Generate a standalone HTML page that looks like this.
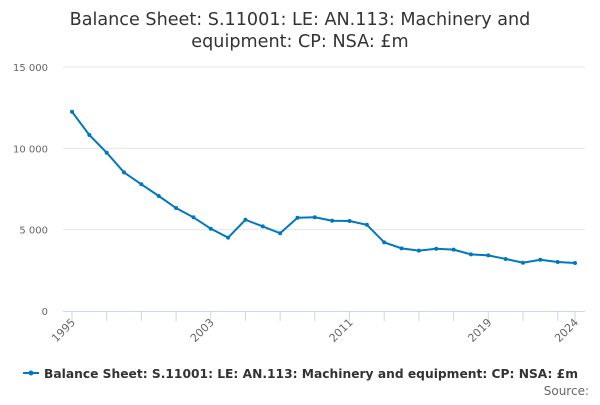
<!DOCTYPE html>
<html><head><meta charset="utf-8"><style>
body{margin:0;background:#fff;width:600px;height:400px;overflow:hidden}
svg{font-family:"DejaVu Sans","Liberation Sans",sans-serif}
</style></head><body>
<svg id="chart" width="600" height="400">
<text x="300" y="25" text-anchor="middle" font-size="17.6" fill="#333">Balance Sheet: S.11001: LE: AN.113: Machinery and</text>
<text x="300" y="47" text-anchor="middle" font-size="17.6" fill="#333">equipment: CP: NSA: £m</text>
<g id="grid"></g><g id="xaxis"></g><g id="series"></g>
<g>
<line x1="23" y1="373" x2="39" y2="373" stroke="#0077c0" stroke-width="2"/>
<circle cx="31" cy="373" r="2.5" fill="#0077c0"/>
<text x="44" y="378" font-size="12.5" font-weight="bold" fill="#333" textLength="534" lengthAdjust="spacingAndGlyphs">Balance Sheet: S.11001: LE: AN.113: Machinery and equipment: CP: NSA: £m</text>
</g>
<text x="589" y="395" text-anchor="end" font-size="12" fill="#666">Source:</text>
</svg>
<script>
const years=[1995,1996,1997,1998,1999,2000,2001,2002,2003,2004,2005,2006,2007,2008,2009,2010,2011,2012,2013,2014,2015,2016,2017,2018,2019,2020,2021,2022,2023,2024];
const values=[12250,10820,9730,8520,7790,7070,6330,5760,5060,4510,5610,5200,4780,5730,5760,5550,5530,5300,4220,3850,3710,3830,3770,3480,3420,3200,2970,3150,3010,2950];
const yTicks=[0,5000,10000,15000];
const yTickLabels=["0","5 000","10 000","15 000"];
const xLabelYears=[1995,2003,2011,2019,2024];
const NS="http://www.w3.org/2000/svg";
const x=v=>72+(v-1995)*(575-72)/29;
const y=v=>311-v*(311-67)/15000;
function mk(tag,attrs,parent){const e=document.createElementNS(NS,tag);for(const k in attrs)e.setAttribute(k,attrs[k]);parent.appendChild(e);return e;}
const grid=document.getElementById('grid'),xa=document.getElementById('xaxis'),ser=document.getElementById('series');
yTicks.forEach((t,i)=>{
 if(t>0){const l=mk('line',{x1:63,x2:585,y1:y(t),y2:y(t),stroke:'#e6e6e6'},grid);
 
 }
 const tx=mk('text',{x:48,y:y(t)+4,'text-anchor':'end','font-size':10,fill:'#666'},grid);
 tx.textContent=yTickLabels[i];
 
 
});
const ax=mk('line',{x1:63,x2:585,y1:311.5,y2:311.5,stroke:'#ccd6eb'},xa);


for(let yr=1995;yr<=2024;yr+=2){
 const tk=mk('line',{x1:x(yr),x2:x(yr),y1:311,y2:321,stroke:'#ccd6eb'},xa);
 
 
}
const tk2=mk('line',{x1:x(2024),x2:x(2024),y1:311,y2:321,stroke:'#ccd6eb'},xa);


xLabelYears.forEach(yr=>{
 const px=x(yr)+4,py=323;
 const t=mk('text',{x:px,y:py,'text-anchor':'end','font-size':11,fill:'#666',transform:`rotate(-45 ${px} ${py})`},xa);
 t.textContent=yr;
 
 
});
const pts=years.map((yr,i)=>x(yr)+','+y(values[i])).join(' ');
const pl=mk('polyline',{points:pts,fill:'none',stroke:'#0077c0','stroke-width':2},ser);


years.forEach((yr,i)=>{
 const c=mk('circle',{cx:x(yr),cy:y(values[i]),r:2,fill:'#0077c0'},ser);
 
 
});
</script>
</body></html>
